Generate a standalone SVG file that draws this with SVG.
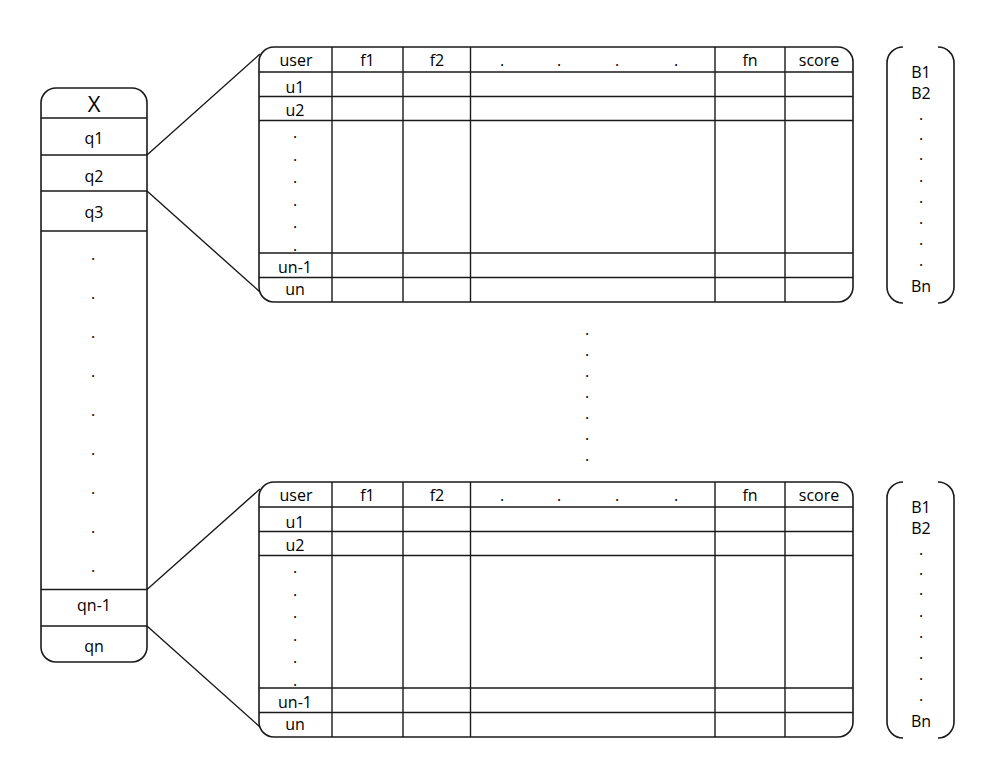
<svg xmlns="http://www.w3.org/2000/svg" width="998" height="781" viewBox="0 0 998 781">
<style>
.o{fill:none;stroke:#1a1a1a;stroke-width:1.6}
.l{fill:none;stroke:#1a1a1a;stroke-width:1.4}
text{font-family:"Open Sans","Liberation Sans",sans-serif;font-size:16px;fill:#000;text-anchor:middle}
.big{font-size:22px}
</style>
<rect width="998" height="781" fill="#fff"/>
<g id="X">
<path class="o" d="M56,88 H132 A15,15 0 0 1 147,103 V647 A15,15 0 0 1 132,662 H56 A15,15 0 0 1 41,647 V103 A15,15 0 0 1 56,88 Z"/>
<path class="l" d="M41,118 H147 M41,155 H147 M41,191 H147 M41,231 H147 M41,589.5 H147 M41,626 H147"/>
<text class="big" x="94" y="112">X</text>
<text x="94" y="144">q1</text>
<text x="94" y="181.5">q2</text>
<text x="94" y="218">q3</text>
<text x="93" y="259.5">.</text>
<text x="93" y="298.5">.</text>
<text x="93" y="337.5">.</text>
<text x="93" y="376.5">.</text>
<text x="93" y="415.5">.</text>
<text x="93" y="454.5">.</text>
<text x="93" y="493.5">.</text>
<text x="93" y="532.5">.</text>
<text x="93" y="571.5">.</text>
<text x="94" y="610.5">qn-1</text>
<text x="94" y="651.5">qn</text>
</g>
<g id="table1">
<path class="o" d="M274,47 H838 A15,15 0 0 1 853,62 V287 A15,15 0 0 1 838,302 H274 A15,15 0 0 1 259,287 V62 A15,15 0 0 1 274,47 Z"/>
<path class="l" d="M259,72 H853 M259,96.5 H853 M259,120.5 H853 M259,253 H853 M259,277.5 H853 M332,47 V302 M403,47 V302 M470.5,47 V302 M715,47 V302 M785,47 V302"/>
<text x="296" y="66">user</text>
<text x="367.5" y="66">f1</text>
<text x="437" y="66">f2</text>
<text x="502" y="66">.</text>
<text x="559" y="66">.</text>
<text x="617" y="66">.</text>
<text x="676" y="66">.</text>
<text x="750" y="66">fn</text>
<text x="819" y="66">score</text>
<text x="295" y="93">u1</text>
<text x="295" y="116">u2</text>
<text x="295" y="138">.</text>
<text x="295" y="160.5">.</text>
<text x="295" y="183">.</text>
<text x="295" y="205.5">.</text>
<text x="295" y="228">.</text>
<text x="295" y="250.5">.</text>
<text x="295" y="272.5">un-1</text>
<text x="295" y="295">un</text>
</g>
<g id="table2" transform="translate(0,435)">
<path class="o" d="M274,47 H838 A15,15 0 0 1 853,62 V287 A15,15 0 0 1 838,302 H274 A15,15 0 0 1 259,287 V62 A15,15 0 0 1 274,47 Z"/>
<path class="l" d="M259,72 H853 M259,96.5 H853 M259,120.5 H853 M259,253 H853 M259,277.5 H853 M332,47 V302 M403,47 V302 M470.5,47 V302 M715,47 V302 M785,47 V302"/>
<text x="296" y="66">user</text>
<text x="367.5" y="66">f1</text>
<text x="437" y="66">f2</text>
<text x="502" y="66">.</text>
<text x="559" y="66">.</text>
<text x="617" y="66">.</text>
<text x="676" y="66">.</text>
<text x="750" y="66">fn</text>
<text x="819" y="66">score</text>
<text x="295" y="93">u1</text>
<text x="295" y="116">u2</text>
<text x="295" y="138">.</text>
<text x="295" y="160.5">.</text>
<text x="295" y="183">.</text>
<text x="295" y="205.5">.</text>
<text x="295" y="228">.</text>
<text x="295" y="250.5">.</text>
<text x="295" y="272.5">un-1</text>
<text x="295" y="295">un</text>
</g>
<g id="vector1">
<path class="o" d="M903,47 A16,16 0 0 0 887,63 V287 A16,16 0 0 0 903,303 M938,47 A16,16 0 0 1 954,63 V287 A16,16 0 0 1 938,303"/>
<text x="921" y="78">B1</text>
<text x="921" y="98.5">B2</text>
<text x="921" y="120">.</text>
<text x="921" y="140">.</text>
<text x="921" y="160">.</text>
<text x="921" y="182">.</text>
<text x="921" y="203">.</text>
<text x="921" y="224">.</text>
<text x="921" y="245">.</text>
<text x="921" y="266">.</text>
<text x="921" y="291.5">Bn</text>
</g>
<g id="vector2" transform="translate(0,435)">
<path class="o" d="M903,47 A16,16 0 0 0 887,63 V287 A16,16 0 0 0 903,303 M938,47 A16,16 0 0 1 954,63 V287 A16,16 0 0 1 938,303"/>
<text x="921" y="78">B1</text>
<text x="921" y="98.5">B2</text>
<text x="921" y="120">.</text>
<text x="921" y="140">.</text>
<text x="921" y="160">.</text>
<text x="921" y="182">.</text>
<text x="921" y="203">.</text>
<text x="921" y="224">.</text>
<text x="921" y="245">.</text>
<text x="921" y="266">.</text>
<text x="921" y="291.5">Bn</text>
</g>
<g id="ellipsis">
<text x="587" y="335">.</text>
<text x="587" y="356">.</text>
<text x="587" y="377">.</text>
<text x="587" y="398">.</text>
<text x="587" y="419">.</text>
<text x="587" y="440">.</text>
<text x="587" y="461">.</text>
</g>
<g id="connectors">
<path class="l" d="M147,155 L260,54 M147,191 L260,292 M147,589.5 L260,489 M147,626 L260,727"/>
</g>
</svg>
